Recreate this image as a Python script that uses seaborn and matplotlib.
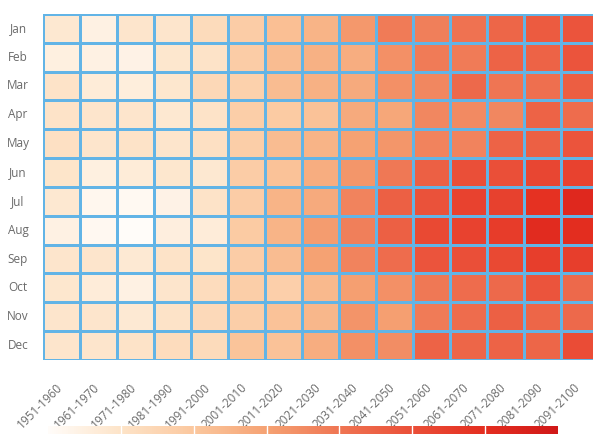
import numpy as np
import pandas as pd
import seaborn as sns
import matplotlib.pyplot as plt
from matplotlib.colors import LinearSegmentedColormap
from matplotlib.transforms import ScaledTranslation

months = ["Jan", "Feb", "Mar", "Apr", "May", "Jun",
          "Jul", "Aug", "Sep", "Oct", "Nov", "Dec"]
decades = ["1951-1960", "1961-1970", "1971-1980", "1981-1990", "1991-2000",
           "2001-2010", "2011-2020", "2021-2030", "2031-2040", "2041-2050",
           "2051-2060", "2061-2070", "2071-2080", "2081-2090", "2091-2100"]

# one row per month, one value per decade
jan = [0.82, 0.45, 0.91, 0.91, 1.29, 1.82, 2.23, 2.54, 3.20, 3.87, 3.80, 4.08, 4.38, 4.69, 4.85]
feb = [0.50, 0.45, 0.41, 0.86, 1.00, 1.82, 2.31, 2.62, 2.69, 3.40, 3.87, 3.87, 4.46, 4.46, 4.85]
mar = [1.00, 0.68, 0.59, 0.86, 1.41, 1.65, 2.31, 2.62, 2.77, 3.40, 3.60, 4.31, 4.00, 4.15, 4.62]
apr = [1.00, 0.91, 0.91, 0.82, 1.00, 1.76, 1.88, 2.15, 2.77, 2.85, 3.60, 3.53, 3.60, 4.46, 4.23]
may = [1.12, 0.91, 1.00, 0.91, 1.12, 1.76, 2.31, 2.54, 3.00, 3.27, 3.67, 3.67, 4.46, 4.54, 4.85]
jun = [0.95, 0.50, 0.68, 0.86, 0.82, 1.82, 2.15, 2.69, 3.27, 3.93, 4.54, 5.00, 5.00, 5.25, 5.38]
jul = [0.82, 0.23, 0.14, 0.41, 1.00, 1.82, 2.54, 2.77, 3.67, 4.54, 4.92, 5.38, 5.44, 5.88, 6.25]
aug = [0.45, 0.18, 0.00, 0.55, 0.64, 1.88, 2.54, 3.13, 3.80, 4.54, 5.19, 5.38, 5.56, 6.13, 6.06]
sep = [0.91, 0.91, 0.77, 1.00, 0.95, 1.82, 2.31, 3.00, 3.67, 4.23, 4.85, 5.00, 5.19, 5.50, 5.50]
oct_ = [0.86, 0.64, 0.45, 0.91, 1.24, 1.76, 1.71, 2.38, 3.07, 3.40, 3.93, 4.23, 4.31, 4.85, 4.31]
nov = [0.91, 0.91, 0.77, 1.00, 1.35, 1.76, 2.15, 2.46, 3.33, 3.07, 3.87, 4.23, 4.54, 4.38, 4.31]
dec = [0.91, 0.91, 1.00, 1.24, 1.29, 2.08, 2.15, 2.69, 3.40, 3.47, 4.46, 4.38, 4.46, 4.38, 5.06]

df = pd.DataFrame([jan, feb, mar, apr, may, jun, jul, aug, sep, oct_, nov, dec],
                  index=months, columns=decades)

cmap = LinearSegmentedColormap.from_list(
    "warm", ["#fffcf9", "#fde3c7", "#fbc79e", "#f5a273",
             "#ef7553", "#ea4f38", "#e42e20", "#d01818"])

sns.set_style("white")
plt.rcParams["font.family"] = ["Open Sans", "DejaVu Sans"]

fig = plt.figure(figsize=(5.93, 4.34), dpi=100)
ax = fig.add_axes([0.0725, 0.1705, 0.936, 0.7975])
cax = fig.add_axes([0.081, -0.012, 0.86, 0.03])

sns.heatmap(df, ax=ax, cmap=cmap, vmin=0, vmax=7, linewidths=0.9, linecolor="#62b4e6",
            cbar_ax=cax, cbar_kws={"orientation": "horizontal"})

ax.tick_params(axis="both", length=0, labelsize=8.5, labelcolor="#6a6a6a")
ax.tick_params(axis="y", pad=18)
ax.tick_params(axis="x", pad=15)
for lbl in ax.get_yticklabels():
    lbl.set_rotation(0)
    lbl.set_ha("center")
shift = ScaledTranslation(-6 / 100, 0, fig.dpi_scale_trans)
for lbl in ax.get_xticklabels():
    lbl.set_rotation(45)
    lbl.set_ha("right")
    lbl.set_rotation_mode("anchor")
    lbl.set_transform(lbl.get_transform() + shift)
ax.set_xlabel("")
ax.set_ylabel("")

cbar = ax.collections[0].colorbar
cbar.outline.set_visible(False)
cbar.ax.set_xticks([])
for t in range(1, 7):
    cbar.ax.axvline(t, color="white", lw=1)

fig.savefig("out.png", dpi=100)
